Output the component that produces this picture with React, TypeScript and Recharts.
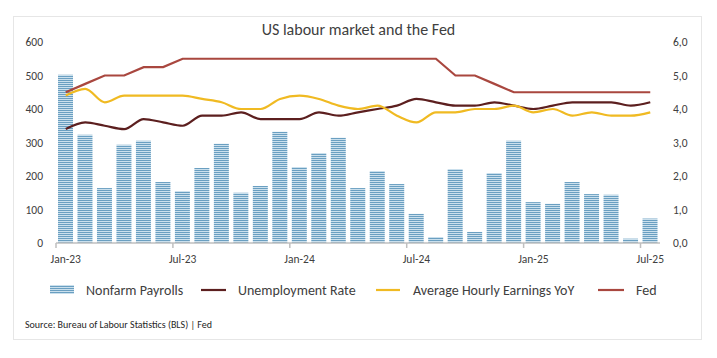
import React from "react";
import { ComposedChart, Bar, Line, XAxis, YAxis } from "recharts";

const months = [
  "Jan-23", "Feb-23", "Mar-23", "Apr-23", "May-23", "Jun-23", "Jul-23", "Aug-23", "Sep-23", "Oct-23", "Nov-23", "Dec-23",
  "Jan-24", "Feb-24", "Mar-24", "Apr-24", "May-24", "Jun-24", "Jul-24", "Aug-24", "Sep-24", "Oct-24", "Nov-24", "Dec-24",
  "Jan-25", "Feb-25", "Mar-25", "Apr-25", "May-25", "Jun-25", "Jul-25",
];

// thousands of jobs
const nonfarmPayrolls = [
  502, 323, 164, 293, 305, 182, 155, 224, 296, 150, 170, 332,
  227, 269, 314, 164, 215, 176, 87, 18, 221, 33, 209, 305,
  122, 117, 182, 146, 144, 13, 73,
];

// %
const unemploymentRate = [
  3.4, 3.6, 3.5, 3.4, 3.7, 3.6, 3.5, 3.8, 3.8, 3.9, 3.7, 3.7,
  3.7, 3.9, 3.8, 3.9, 4.0, 4.1, 4.3, 4.2, 4.1, 4.1, 4.2, 4.1,
  4.0, 4.1, 4.2, 4.2, 4.2, 4.1, 4.2,
];

const hourlyEarningsYoY = [
  4.4, 4.6, 4.2, 4.4, 4.4, 4.4, 4.4, 4.3, 4.2, 4.0, 4.0, 4.3,
  4.4, 4.3, 4.1, 4.0, 4.1, 3.8, 3.6, 3.9, 3.9, 4.0, 4.0, 4.1,
  3.9, 4.0, 3.8, 3.9, 3.8, 3.8, 3.9,
];

const fedRate = [
  4.5, 4.75, 5, 5, 5.25, 5.25, 5.5, 5.5, 5.5, 5.5, 5.5, 5.5,
  5.5, 5.5, 5.5, 5.5, 5.5, 5.5, 5.5, 5.5, 5, 5, 4.75, 4.5,
  4.5, 4.5, 4.5, 4.5, 4.5, 4.5, 4.5,
];

const leftTicks = [0, 100, 200, 300, 400, 500, 600];
const rightTicks = [0, 1, 2, 3, 4, 5, 6];
// labelled months and the category boundaries just before them
const labelIdx = [0, 6, 12, 18, 24, 30];
const xTicks = labelIdx.flatMap((i) => [i - 0.5, i]);

const data = months.map((m, i) => ({
  i,
  month: m,
  payrolls: nonfarmPayrolls[i],
  unemployment: unemploymentRate[i],
  earnings: hourlyEarningsYoY[i],
  fed: fedRate[i],
}));

const FONT = "Carlito, Lato, 'Open Sans', sans-serif";
const TXT = "#404040";
const AXIS = "#bfbfbf";
const BLUE_DARK = "#6a9fc1";
const BLUE_LIGHT = "#cbe0ed";
const C_UNEMP = "#5c1f1f";
const C_EARN = "#f0ba22";
const C_FED = "#a9473f";

const XTick = (props: any) => {
  const { x, y, payload } = props;
  const v = payload.value;
  if (v % 1 !== 0) {
    return <line x1={x} x2={x} y1={y} y2={y + 5} stroke={AXIS} strokeWidth={1.5} />;
  }
  return (
    <text x={x} y={y + 12} dy="0.71em" textAnchor="middle" fontSize={11.5} fill={TXT} fontFamily={FONT}>
      {months[v]}
    </text>
  );
};

const Stripes = ({ id }: { id: string }) => (
  <pattern id={id} patternUnits="userSpaceOnUse" width={4} height={2}>
    <rect width={4} height={2} fill={BLUE_LIGHT} />
    <rect width={4} height={1} fill={BLUE_DARK} />
  </pattern>
);

export default function App() {
  const tickStyle = { fontSize: 11.5, fill: TXT, fontFamily: FONT };
  return (
    <div style={{ position: "absolute", left: 0, top: 0, width: 717, height: 358, background: "#fff" }}>
      <ComposedChart
        width={717}
        height={358}
        data={data}
        margin={{ top: 42, right: 10, bottom: 90, left: 10 }}
      >
        <defs>
          <Stripes id="stripes" />
        </defs>
        <XAxis
          dataKey="i"
          type="number"
          domain={[-0.5, 30.5]}
          ticks={xTicks}
          interval={0}
          height={25}
          tickSize={0}
          tickMargin={0}
          tickLine={false}
          axisLine={{ stroke: AXIS, strokeWidth: 1.5 }}
          tick={XTick}
        />
        <YAxis
          yAxisId="left"
          domain={[0, 600]}
          ticks={leftTicks}
          width={46}
          axisLine={false}
          tickLine={false}
          tickSize={0}
          tickMargin={13}
          tick={tickStyle}
        />
        <YAxis
          yAxisId="right"
          orientation="right"
          domain={[0, 6]}
          ticks={rightTicks}
          width={47}
          axisLine={false}
          tickLine={false}
          tickSize={0}
          tickMargin={13}
          tick={tickStyle}
          tickFormatter={(v: number) => v.toFixed(1).replace(".", ",")}
        />
        <Bar yAxisId="left" dataKey="payrolls" barSize={15} fill="url(#stripes)" isAnimationActive={false} />
        <Line yAxisId="right" type="monotone" dataKey="unemployment" stroke={C_UNEMP} strokeWidth={2.2} dot={false} isAnimationActive={false} />
        <Line yAxisId="right" type="monotone" dataKey="earnings" stroke={C_EARN} strokeWidth={2.2} dot={false} isAnimationActive={false} />
        <Line yAxisId="right" type="linear" dataKey="fed" stroke={C_FED} strokeWidth={2.2} dot={false} isAnimationActive={false} />
      </ComposedChart>

      <svg width={717} height={358} style={{ position: "absolute", left: 0, top: 0, pointerEvents: "none" }} fontFamily={FONT}>
        <defs>
          <Stripes id="stripesLegend" />
        </defs>
        <rect x={13.5} y={16.5} width={688} height={323} fill="none" stroke="#e6e6e6" />
        <text x={358.5} y={35} textAnchor="middle" fontSize={16} fill={TXT}>
          US labour market and the Fed
        </text>
        <rect x={50} y={285} width={24} height={9} fill="url(#stripesLegend)" />
        <text x={86} y={295} fontSize={14} fill={TXT}>Nonfarm Payrolls</text>
        <line x1={201} x2={226} y1={290} y2={290} stroke={C_UNEMP} strokeWidth={2.2} />
        <text x={238} y={295} fontSize={14} fill={TXT}>Unemployment Rate</text>
        <line x1={376} x2={400} y1={290} y2={290} stroke={C_EARN} strokeWidth={2.2} />
        <text x={413} y={295} fontSize={14} fill={TXT}>Average Hourly Earnings YoY</text>
        <line x1={598} x2={624} y1={290} y2={290} stroke={C_FED} strokeWidth={2.2} />
        <text x={636} y={295} fontSize={14} fill={TXT}>Fed</text>
        <text x={25} y={328} fontSize={10} fill="#262626">
          Source: Bureau of Labour Statistics (BLS) | Fed
        </text>
      </svg>
    </div>
  );
}
